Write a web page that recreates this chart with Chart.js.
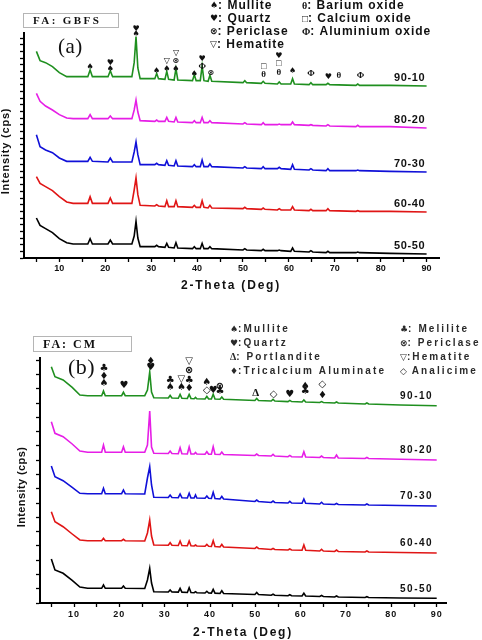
<!DOCTYPE html>
<html lang="en">
  <head>
    <meta charset="utf-8" />
    <title>XRD patterns of FA: GBFS and FA: CM blends</title>
    <style>
      * {
        margin: 0;
        padding: 0;
      }
      body {
        background: #fff;
        width: 482px;
        height: 640px;
        overflow: hidden;
      }
      .wrap {
        position: relative;
        width: 482px;
        height: 640px;
      }
      canvas {
        position: absolute;
        left: 0;
      }
      #chartA {
        top: 0;
      }
      #chartB {
        top: 300px;
      }
    </style>
  </head>
  <body>
    <div class="wrap">
      <canvas id="chartA" width="482" height="300"></canvas>
      <canvas id="chartB" width="482" height="340"></canvas>
    </div>
    <script src="https://cdn.jsdelivr.net/npm/chart.js/dist/chart.umd.min.js"></script>
    <script>
      // setup
      const samples = ["90-10", "80-20", "70-30", "60-40", "50-50"];
      const colors = ["#1f8f1f", "#e61ee6", "#1010d8", "#e01515", "#000000"];
      const xTicks = [5, 10, 15, 20, 25, 30, 35, 40, 45, 50, 55, 60, 65, 70, 75, 80, 85, 90];

      // (a) FA: GBFS, 2-theta positions and stacked intensities
      const thetaA = [5, 5.8, 7, 8.5, 10, 11.6, 13, 16.2, 16.7, 17.2, 20.6, 21.1, 21.6, 25.8, 26.3, 26.7, 27.1, 27.6,
        30.8, 31.2, 31.6, 33, 33.4, 33.8, 35, 35.4, 35.8, 39, 39.4, 39.8, 40.7, 41.1, 41.5, 42.4, 42.8, 43.2,
        50, 50.4, 50.8, 54, 54.4, 54.8, 57.5, 57.9, 58.3, 60.4, 60.8, 61.2, 64.4, 64.8, 65.2, 68.1, 68.5, 68.9,
        74.6, 75, 75.4, 82, 90];
      const gbfs9010 = [310, 296, 293, 287, 278, 272, 272, 272, 282, 272, 272, 281, 272, 272, 293, 332, 285, 269,
        269, 277, 269, 268, 280, 268, 267, 284, 267, 266, 275, 266, 266, 288, 266, 265, 274, 265,
        263, 266, 263, 262, 265, 262, 261, 264, 261, 261, 269, 261, 260, 263, 260, 260, 262, 260, 259, 261, 259, 259, 258];
      const gbfs8020 = [247, 235, 228, 222, 215, 210, 209, 209, 215, 209, 209, 213, 209, 209, 222, 237, 219, 206,
        205, 207, 205, 205, 211, 205, 204, 211, 204, 203, 206, 203, 203, 211, 203, 203, 206, 203,
        201, 203, 201, 200, 203, 200, 200, 201, 200, 200, 204, 200, 199, 200, 199, 198, 200, 198, 197, 199, 197, 197, 195];
      const gbfs7030 = [185, 167, 162, 158, 150, 145, 145, 145, 151, 145, 144, 150, 144, 144, 159, 174, 155, 140,
        140, 142, 140, 139, 146, 139, 138, 146, 138, 137, 140, 137, 137, 147, 137, 137, 141, 137,
        135, 137, 135, 134, 137, 134, 134, 136, 134, 133, 140, 133, 132, 134, 132, 131, 134, 131, 131, 132, 131, 130, 129];
      const gbfs6040 = [122, 112, 107, 101, 92, 84, 82, 82, 92, 82, 82, 90, 82, 82, 102, 120, 95, 79,
        78, 80, 78, 77, 86, 77, 77, 86, 77, 76, 79, 76, 76, 86, 76, 75, 79, 75,
        74, 76, 74, 73, 75, 73, 72, 74, 72, 72, 77, 72, 71, 73, 71, 71, 74, 71, 70, 71, 70, 70, 69];
      const gbfs5050 = [60, 49, 44, 38, 29, 23, 21, 21, 29, 21, 21, 27, 21, 21, 33, 55, 30, 17,
        17, 19, 17, 16, 22, 16, 15, 23, 15, 14, 17, 14, 14, 22, 14, 14, 17, 14,
        12, 14, 12, 11, 13, 11, 11, 12, 11, 10, 15, 10, 9, 11, 9, 8, 10, 8, 8, 9, 8, 7, 6];

      // (b) FA: CM
      const thetaB = [5, 5.8, 7.6, 9.6, 11.3, 13, 16.1, 16.5, 16.9, 20.5, 20.9, 21.3, 25.6, 26.2, 26.7, 27.1, 27.6,
        30.8, 31.2, 31.6, 33, 33.4, 33.8, 35, 35.4, 35.8, 36.5, 36.8, 37.1, 38.9, 39.3, 39.7, 40.3, 40.7, 41.1,
        42.2, 42.6, 43, 49.9, 50.3, 50.7, 53.5, 53.9, 54.3, 57.2, 57.6, 58, 60.3, 60.7, 61.1, 64.2, 64.6, 65,
        67.5, 67.9, 68.3, 74.2, 74.6, 75, 82, 90];
      const cm9010 = [165.4, 158.4, 156.1, 150.9, 145.6, 145.1, 145.1, 148.4, 145.1, 145.1, 147.5, 145.1, 145.1,
        149.1, 161.7, 147.7, 143.7, 143.5, 145.3, 143.5, 143.3, 146, 143.3, 143.2, 146, 143.2, 143, 143.9, 143,
        142.8, 144.6, 142.8, 142.8, 146.1, 142.8, 142.6, 144.2, 142.6, 141.8, 143.2, 141.8, 141.4, 142.5, 141.4,
        141, 141.8, 141, 140.7, 142.1, 140.7, 140.4, 141, 140.4, 140, 140.7, 140, 139.3, 140, 139.3, 138.6, 138.1];
      const cm8020 = [126.9, 118.8, 116.4, 111.3, 106.4, 105.5, 105.5, 110.6, 105.5, 105.5, 109.4, 105.5, 105.5,
        110.6, 134.4, 109.2, 104.8, 104.7, 106.4, 104.7, 104.5, 108.7, 104.5, 104.3, 109.2, 104.3, 104.3, 105.4, 104.3,
        104.1, 105.9, 104.1, 104.1, 109.4, 104.1, 104, 105.7, 104, 103.3, 104.3, 103.3, 102.9, 104, 102.9,
        102.4, 103.3, 102.4, 102.2, 105.9, 102.2, 101.9, 102.9, 101.9, 101.5, 103.6, 101.5, 101.2, 101.9, 101.2, 100.6, 100.1];
      const cm7030 = [95.9, 88.4, 85.6, 80.9, 76.8, 76.5, 76.5, 80.3, 76.5, 76.5, 79.1, 76.5, 76.3,
        87.5, 95.4, 82.6, 74, 73.9, 75.6, 73.9, 73.7, 76.3, 73.7, 73.5, 76.8, 73.5, 73.5, 75.6, 73.5,
        73.3, 74.9, 73.3, 73.2, 77.5, 73.2, 72.8, 74.6, 72.8, 71.1, 72.1, 71.1, 70.4, 71.4, 70.4,
        70, 71.1, 70, 69.8, 72.8, 69.8, 69.3, 70.5, 69.3, 69, 69.7, 69, 68.6, 69.3, 68.6, 68.3, 67.9];
      const cm6040 = [63.9, 56.9, 53.4, 48.3, 44.1, 43.6, 43.6, 45.3, 43.6, 43.6, 44.6, 43.6, 43.4,
        49, 58.1, 46.9, 40.6, 40.4, 42.2, 40.4, 40.3, 43.4, 40.3, 40.1, 43.4, 40.1, 39.9, 40.6, 39.9,
        39.7, 41, 39.7, 39.6, 43.6, 39.6, 39.2, 41, 39.2, 38.2, 39.2, 38.2, 37.5, 38.2, 37.5,
        37.1, 37.8, 37.1, 36.9, 40.6, 36.9, 36.4, 37.5, 36.4, 36.1, 37.1, 36.1, 35.7, 36.4, 35.7, 35.4, 35];
      const cm5050 = [30.8, 23.1, 20.8, 15.8, 11.2, 10.3, 10.3, 12.6, 10.3, 10.3, 11.9, 10.3, 10.2,
        16.1, 24.3, 14, 7.9, 7.7, 9.1, 7.7, 7.6, 10.3, 7.6, 7.4, 10.7, 7.4, 7.2, 7.9, 7.2,
        7, 8.2, 7, 6.9, 9.6, 6.9, 6.7, 8.6, 6.7, 6, 7.4, 6, 5.4, 6.1, 5.4,
        5.1, 5.8, 5.1, 4.9, 6.8, 4.9, 4.6, 5.3, 4.6, 4.2, 4.9, 4.2, 3.9, 4.4, 3.9, 3.5, 3.3];

      // phase key and peak markers [2-theta, intensity, symbol]
      const phasesA = [["♠", ": Mullite"], ["♥", ": Quartz"], ["⊗", ": Periclase"], ["▽", ": Hematite"],
        ["θ", ": Barium oxide"], ["□", ": Calcium oxide"], ["Φ", ": Aluminium oxide"]];
      const peaksA = [
        [16.7, 287, "♠"], [21.1, 292, "♥"], [21.1, 284, "♠"], [26.7, 344, "♥"], [26.7, 336, "♠"],
        [31.2, 280, "♠"], [33.4, 283, "♠"], [33.4, 295, "▽"], [35.4, 283, "♠"], [35.4, 296, "⊗"],
        [35.4, 308, "▽"], [39.4, 276, "♠"], [41.1, 298, "♥"], [41.1, 287, "Φ"], [43.0, 278, "⊗"],
        [54.5, 287, "□"], [54.5, 275, "θ"], [57.8, 303, "♥"], [57.8, 291, "□"], [57.8, 278, "θ"],
        [60.8, 280, "♠"], [64.8, 277, "Φ"], [68.6, 271, "♥"], [70.9, 273, "θ"], [75.6, 273, "Φ"],
      ];
      const phasesB = [["♠", ":Mullite"], ["♥", ":Quartz"], ["Δ", ": Portlandite"], ["♦", ":Tricalcium Aluminate"],
        ["♣", ": Melilite"], ["⊗", ": Periclase"], ["▽", ":Hematite"], ["◇", " Analicime"]];
      const peaksB = [
        [16.6, 164.5, "♣"], [16.6, 158.6, "♦"], [16.6, 154, "♠"], [21.0, 152, "♥"],
        [26.9, 169.4, "♦"], [26.9, 165, "♥"], [31.2, 156.1, "♣"], [31.2, 151, "♠"],
        [33.7, 156.8, "▽"], [33.7, 151, "♠"], [35.4, 168.9, "▽"], [35.4, 162.6, "⊗"],
        [35.4, 156.1, "♣"], [35.4, 150.3, "♦"], [39.3, 154.2, "♠"], [39.3, 148.6, "◇"],
        [40.7, 149.1, "♥"], [42.2, 151.9, "⊗"], [42.2, 147.9, "♣"], [50.1, 147.2, "Δ"],
        [54.0, 146.1, "◇"], [57.6, 146.1, "♥"], [61.0, 151.9, "♠"], [61.0, 147.9, "♣"],
        [64.8, 153.1, "◇"], [64.8, 145.6, "♦"],
      ];

      function lines(theta, series) {
        return series.map((vals, i) => ({
          label: samples[i],
          data: theta.map((t, k) => ({ x: t, y: vals[k] })),
          borderColor: colors[i],
          borderWidth: 1.6,
          pointRadius: 0,
          tension: 0,
        }));
      }

      function axes(xMin, xMax, yMax, xHeight, yWidth, tickPad) {
        const grid = { drawOnChartArea: false, tickLength: 4, tickColor: "#000", tickWidth: 1.3 };
        const border = { color: "#000", width: 2 };
        return {
          x: {
            type: "linear",
            min: xMin,
            max: xMax,
            afterBuildTicks: (s) => {
              s.ticks = xTicks.map((v) => ({ value: v }));
            },
            afterFit: (s) => {
              s.height = xHeight;
            },
            ticks: {
              autoSkip: false,
              maxRotation: 0,
              padding: tickPad,
              color: "#111",
              font: { family: "Liberation Sans", size: 9, weight: "bold" },
              callback: (v) => (v % 10 === 0 ? v : ""),
            },
            grid,
            border,
          },
          y: {
            min: 0,
            max: yMax,
            afterFit: (s) => {
              s.width = yWidth;
            },
            ticks: { stepSize: 10, includeBounds: false, autoSkip: false, callback: () => "" },
            grid,
            border,
          },
        };
      }

      // draws the peak symbols, sample names, phase key and titles
      const decor = {
        id: "decor",
        beforeDraw(chart, args, o) {
          chart.ctx.letterSpacing = o.spacing;
        },
        afterDraw(chart, args, o) {
          const { ctx, scales: { x, y } } = chart;
          const glyphFont = (g, size) =>
            /[θΦ□Δ]/.test(g) ? "bold " + (size + 1) + "px 'Liberation Serif'" : "bold " + size + "px 'DejaVu Sans'";
          ctx.save();
          ctx.fillStyle = "#111";
          ctx.textBaseline = "middle";
          ctx.letterSpacing = "0px";

          ctx.textAlign = "center";
          o.peaks.forEach(([t, v, g]) => {
            ctx.font = glyphFont(g, o.markSize);
            ctx.fillText(g, x.getPixelForValue(t), y.getPixelForValue(v));
          });

          ctx.textAlign = "right";
          ctx.font = o.labelFont;
          ctx.letterSpacing = o.labelSpacing;
          chart.data.datasets.forEach((ds) => {
            const last = ds.data[ds.data.length - 1];
            ctx.fillText(ds.label, x.getPixelForValue(o.labelAt), y.getPixelForValue(last.y) - o.labelLift);
          });

          ctx.textAlign = "left";
          ctx.fillStyle = o.keyColor;
          o.phases.forEach(([g, name], i) => {
            const col = i < 4 ? 0 : 1;
            const px = o.keyX[col];
            const py = o.keyY + (i % 4) * o.keyStep;
            ctx.letterSpacing = "0px";
            ctx.font = glyphFont(g, o.keyGlyph);
            ctx.fillText(g, px, py);
            const gw = ctx.measureText(g).width;
            ctx.font = o.keyFont;
            ctx.letterSpacing = o.keySpacing;
            ctx.fillText(name, px + gw, py);
          });

          // sample box and panel letter
          ctx.fillStyle = "#111";
          ctx.strokeStyle = "#b5b5b5";
          ctx.lineWidth = 1;
          ctx.strokeRect(...o.tag.box);
          ctx.font = o.tag.font;
          ctx.letterSpacing = o.tag.spacing;
          ctx.fillText(o.tag.text, o.tag.x, o.tag.y);
          ctx.font = o.letter.font;
          ctx.letterSpacing = "0.5px";
          ctx.fillText(o.letter.text, o.letter.x, o.letter.y);

          // axis titles
          ctx.textAlign = "center";
          ctx.font = "bold 12px 'Liberation Sans'";
          ctx.letterSpacing = "1.8px";
          ctx.fillText("2-Theta (Deg)", o.xTitle[0], o.xTitle[1]);
          ctx.translate(o.yTitle[0], o.yTitle[1]);
          ctx.rotate(-Math.PI / 2);
          ctx.font = "bold 11px 'Liberation Sans'";
          ctx.letterSpacing = o.yTitle[2];
          ctx.fillText("Intensity (cps)", 0, 0);
          ctx.restore();
        },
      };

      // config
      const configA = {
        type: "line",
        data: { datasets: lines(thetaA, [gbfs9010, gbfs8020, gbfs7030, gbfs6040, gbfs5050]) },
        options: {
          responsive: false,
          animation: false,
          layout: { padding: { top: 33, right: 43, bottom: 0, left: 0 } },
          scales: axes(2.3, 92.7, 337.5, 42, 24, 1),
          plugins: {
            legend: { display: false },
            tooltip: { enabled: false },
            decor: {
              spacing: "0px",
              peaks: peaksA,
              markSize: 8,
              labelAt: 89.7,
              labelLift: 8.5,
              labelFont: "bold 11px 'Liberation Sans'",
              labelSpacing: "0.6px",
              phases: phasesA,
              keyX: [210, 302],
              keyY: 6,
              keyStep: 13,
              keyGlyph: 9,
              keyFont: "bold 12px 'Liberation Sans'",
              keySpacing: "1px",
              keyColor: "#111",
              tag: { text: "FA: GBFS", box: [23.5, 13.5, 95, 14], x: 33, y: 21, font: "bold 11px 'Liberation Serif'", spacing: "2.4px" },
              letter: { text: "(a)", x: 58, y: 47, font: "21px 'Liberation Serif'" },
              xTitle: [231, 286],
              yTitle: [6, 151, "0.8px"],
            },
          },
        },
        plugins: [decor],
      };

      const configB = {
        type: "line",
        data: { datasets: lines(thetaB, [cm9010, cm8020, cm7030, cm6040, cm5050]) },
        options: {
          responsive: false,
          animation: false,
          layout: { padding: { top: 58, right: 36, bottom: 0, left: 16 } },
          scales: axes(2.5, 92.05, 171.5, 37, 24, 2),
          plugins: {
            legend: { display: false },
            tooltip: { enabled: false },
            decor: {
              spacing: "1px",
              peaks: peaksB,
              markSize: 10,
              labelAt: 89.2,
              labelLift: 9.5,
              labelFont: "bold 10px 'Liberation Sans'",
              labelSpacing: "1.5px",
              phases: phasesB,
              keyX: [230, 400],
              keyY: 29.3,
              keyStep: 14.1,
              keyGlyph: 9,
              keyFont: "bold 10px 'Liberation Sans'",
              keySpacing: "2.1px",
              keyColor: "#2a2a2a",
              tag: { text: "FA: CM", box: [33.5, 36.5, 98, 15], x: 43, y: 44.5, font: "bold 12px 'Liberation Serif'", spacing: "2px" },
              letter: { text: "(b)", x: 68, y: 68.5, font: "22px 'Liberation Serif'" },
              xTitle: [243, 333],
              yTitle: [22, 187, "0.4px"],
            },
          },
        },
        plugins: [decor],
      };

      // render init block
      const chartA = new Chart(document.getElementById("chartA"), configA);
      const chartB = new Chart(document.getElementById("chartB"), configB);
    </script>
  </body>
</html>
